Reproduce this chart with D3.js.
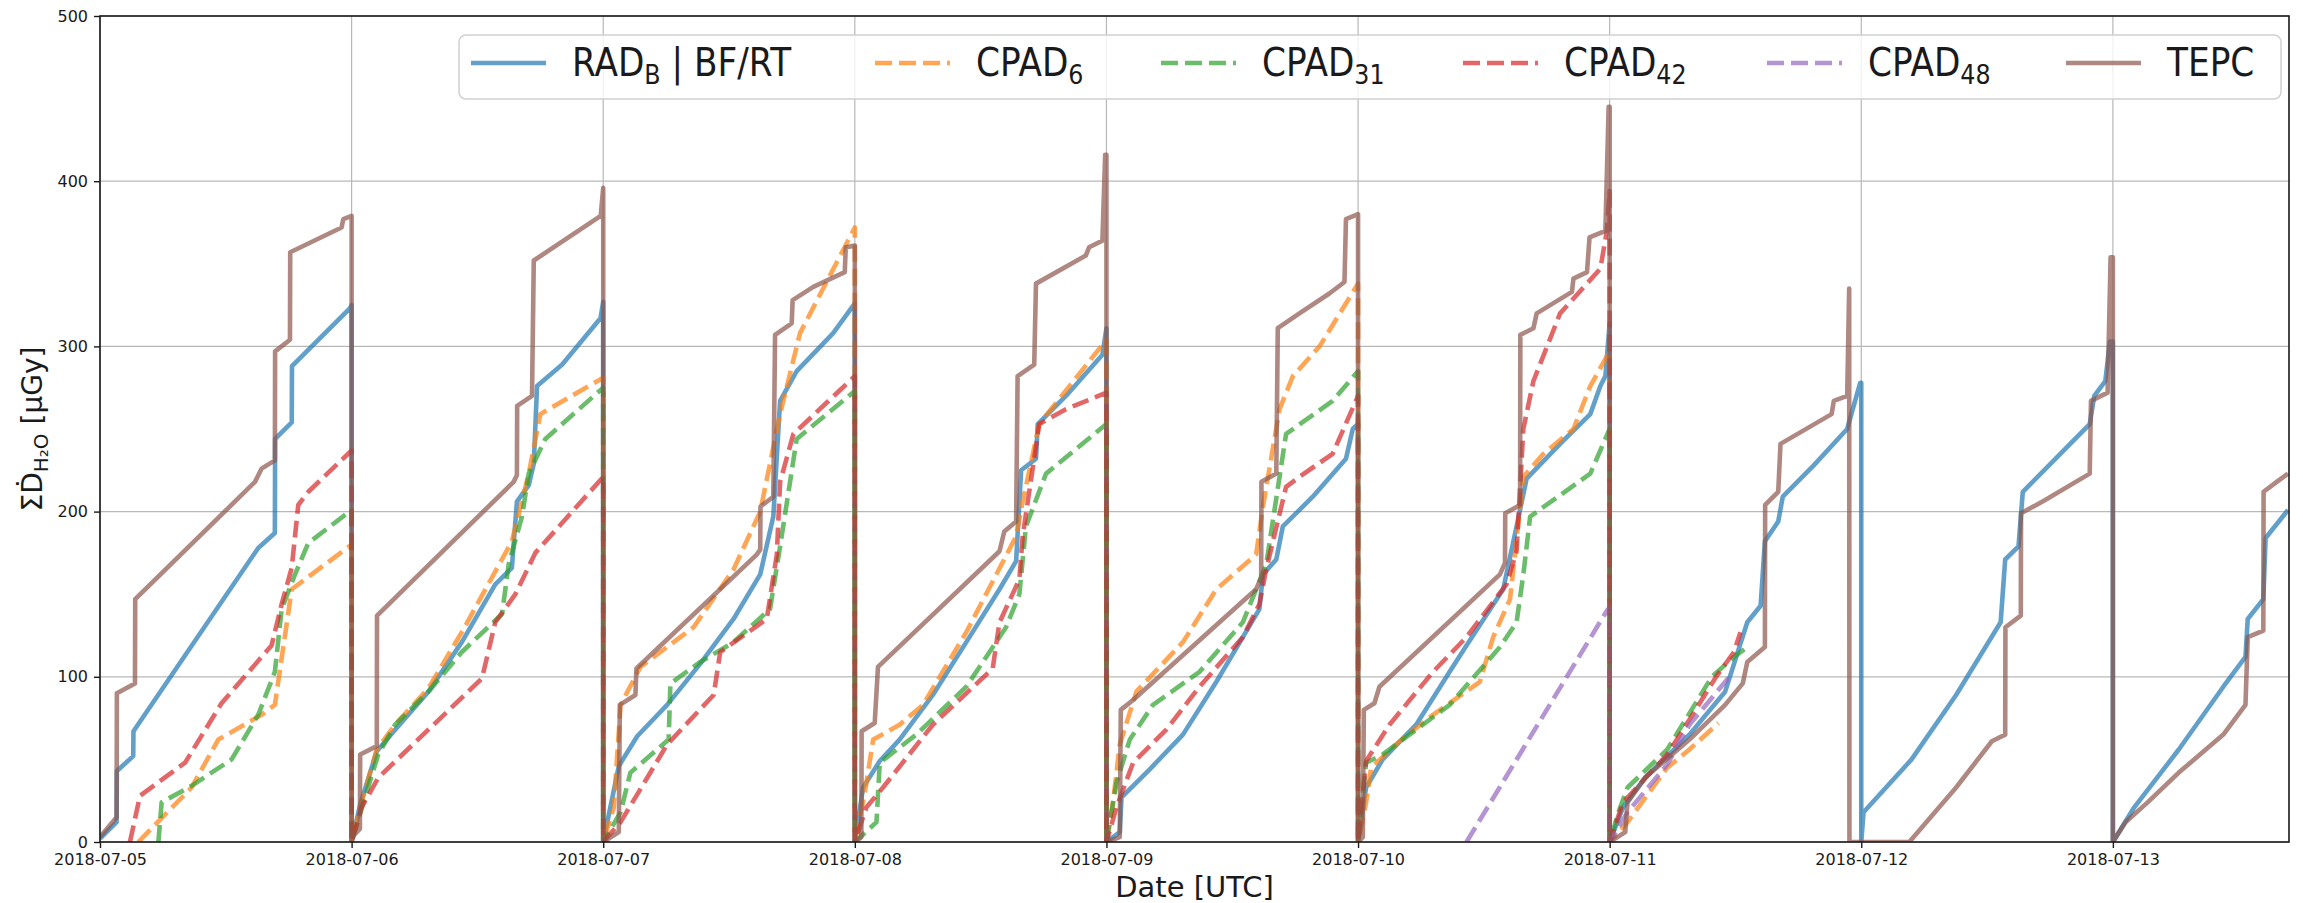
<!DOCTYPE html>
<html>
<head>
<meta charset="utf-8">
<script src="https://cdn.jsdelivr.net/npm/d3@7"></script>
<style>
body { margin: 0; background: #fff; }
text { font-family: "DejaVu Sans", sans-serif; fill: #1a1a1a; white-space: pre; }
</style>
</head>
<body>
<svg id="chart" width="2303" height="903"></svg>
<script>
// time is given in days since 2018-07-05 00:00 UTC, values in uGy
var startDate = Date.UTC(2018, 6, 5);
var endDay = 8.70;
var yTicks = [0, 100, 200, 300, 400, 500];

var radB = [
	[0,2],[0.066,12],[0.067,43],[0.132,52],[0.133,67],[0.629,178],[0.695,187],[0.696,244],[0.762,254],[0.763,288],[0.993,323],[1.0,325],
	[1.0,0],[1.033,22],[1.100,55],[1.173,68],[1.305,91],[1.438,121],[1.571,156],[1.637,166],[1.657,206],[1.704,216],[1.724,229],[1.737,276],[1.837,289],[1.989,317],[2.0,327],
	[2.0,0],[2.062,46],[2.135,64],[2.254,83],[2.386,108],[2.518,135],[2.624,162],[2.676,197],[2.703,267],[2.769,285],[2.914,308],[3.0,326],
	[3.0,0],[3.033,33],[3.099,49],[3.178,62],[3.310,89],[3.443,121],[3.575,153],[3.641,170],[3.661,225],[3.720,232],[3.727,253],[3.839,270],[3.984,295],[4.0,311],
	[4.0,0],[4.053,6],[4.060,27],[4.172,44],[4.304,65],[4.437,97],[4.608,141],[4.622,162],[4.675,171],[4.701,191],[4.820,209],[4.952,232],[4.979,250],[5.0,253],
	[5.0,0],[5.032,33],[5.098,50],[5.231,71],[5.364,103],[5.431,119],[5.577,153],[5.630,191],[5.670,220],[5.803,241],[5.923,259],[5.963,276],[5.983,282],[6.0,314],
	[6.0,0],[6.053,21],[6.141,39],[6.317,65],[6.459,91],[6.547,133],[6.600,143],[6.617,182],[6.670,194],[6.688,209],[6.811,228],[6.944,250],[6.996,278],[7.0,278],
	[7.0,0],[7.009,18],[7.200,50],[7.377,89],[7.554,133],[7.572,171],[7.625,179],[7.642,212],[7.908,253],[7.926,270],[7.970,279],[7.988,303],[8.0,303],
	[8.0,0],[8.085,21],[8.262,56],[8.439,94],[8.527,112],[8.536,135],[8.598,147],[8.607,184],[8.696,201]
];

var cpad6 = [
	[0.152,0],[0.364,33],[0.470,62],[0.642,77],[0.695,83],[0.762,153],[1.0,180],
	[1.0,0],[1.040,24],[1.100,56],[1.173,71],[1.305,93],[1.438,127],[1.637,182],[1.704,223],[1.750,259],[2.0,281],
	[2.0,0],[2.042,21],[2.069,83],[2.148,106],[2.359,130],[2.518,165],[2.624,200],[2.703,259],[2.782,308],[3.0,372],
	[3.0,0],[3.040,30],[3.073,62],[3.178,71],[3.271,83],[3.443,127],[3.641,185],[3.667,206],[3.733,253],[4.0,304],
	[4.0,0],[4.026,24],[4.053,59],[4.119,91],[4.304,121],[4.437,153],[4.595,174],[4.622,203],[4.688,262],[4.741,282],[4.847,300],[5.0,338],
	[5.0,0],[5.032,24],[5.052,45],[5.165,61],[5.298,77],[5.484,97],[5.537,124],[5.604,147],[5.657,221],[5.737,235],[5.856,250],[5.923,276],[6.0,297],
	[6.0,0],[6.071,12],[6.229,45],[6.317,56],[6.432,72]
];

var cpad31 = [
	[0.232,0],[0.245,24],[0.364,34],[0.523,50],[0.629,77],[0.695,103],[0.722,141],[0.775,162],[0.828,181],[1.0,201],
	[1.0,0],[1.053,27],[1.106,53],[1.173,71],[1.305,91],[1.438,115],[1.598,138],[1.624,168],[1.677,197],[1.704,223],[1.770,244],[2.0,275],
	[2.0,0],[2.069,18],[2.108,42],[2.260,62],[2.267,96],[2.386,109],[2.518,121],[2.663,141],[2.703,179],[2.769,244],[3.0,273],
	[3.0,0],[3.086,12],[3.099,48],[3.244,65],[3.443,94],[3.601,130],[3.654,150],[3.680,191],[3.760,223],[4.0,253],
	[4.0,0],[4.040,36],[4.093,62],[4.185,83],[4.370,103],[4.542,133],[4.635,168],[4.714,247],[4.899,267],[5.0,285],
	[5.0,0],[5.032,48],[5.098,53],[5.231,68],[5.364,83],[5.564,118],[5.630,133],[5.657,162],[5.684,197],[5.923,223],[6.0,250],
	[6.0,0],[6.035,18],[6.071,33],[6.229,56],[6.406,100],[6.494,112],[6.556,119]
];

var cpad42 = [
	[0.119,0],[0.159,28],[0.338,48],[0.483,84],[0.682,119],[0.722,144],[0.762,166],[0.788,204],[0.828,212],[1.0,237],
	[1.0,0],[1.040,21],[1.106,39],[1.305,68],[1.518,99],[1.571,133],[1.651,150],[1.730,175],[2.0,221],
	[2.0,0],[2.069,12],[2.254,59],[2.439,89],[2.465,115],[2.650,135],[2.690,174],[2.703,218],[2.756,247],[3.0,282],
	[3.0,0],[3.046,21],[3.112,33],[3.310,71],[3.548,105],[3.575,133],[3.654,159],[3.667,185],[3.733,253],[3.839,262],[4.0,272],
	[4.0,0],[4.040,21],[4.106,48],[4.238,68],[4.370,94],[4.542,124],[4.608,144],[4.635,165],[4.714,215],[4.767,221],[4.899,235],[5.0,270],
	[5.0,0],[5.032,49],[5.125,71],[5.298,103],[5.431,124],[5.590,156],[5.630,176],[5.657,250],[5.697,279],[5.803,320],[5.963,347],[5.989,370],[6.0,394],
	[6.0,0],[6.053,24],[6.229,53],[6.317,74],[6.423,100],[6.494,115],[6.520,127]
];

var cpad48 = [
	[5.431,0],[5.989,140],[6.0,142],
	[6.0,0],[6.071,18],[6.229,47],[6.317,71],[6.476,100]
];

var tepc = [
	[0,3],[0.066,15],[0.067,90],[0.139,96],[0.140,147],[0.616,218],[0.642,226],[0.695,231],[0.696,297],[0.755,304],[0.756,357],[0.960,372],[0.967,377],[1.0,379],
	[1.0,0],[1.001,3],[1.033,8],[1.034,53],[1.100,58],[1.101,137],[1.644,218],[1.657,222],[1.658,264],[1.717,270],[1.724,352],[1.990,379],[2.0,396],
	[2.0,0],[2.062,6],[2.066,83],[2.128,89],[2.132,105],[2.610,174],[2.624,177],[2.625,203],[2.676,209],[2.683,307],[2.749,314],[2.753,328],[2.835,336],[2.960,345],[2.964,360],[3.0,361],
	[3.0,0],[3.026,3],[3.027,67],[3.079,72],[3.092,106],[3.575,176],[3.594,188],[3.641,194],[3.647,282],[3.713,289],[3.720,338],[3.918,355],[3.931,360],[3.984,364],[3.995,416],[4.0,416],
	[4.0,0],[4.053,3],[4.057,80],[4.106,86],[4.595,153],[4.615,160],[4.616,218],[4.675,223],[4.681,311],[4.767,320],[4.886,332],[4.946,339],[4.952,377],[5.0,380],
	[5.0,0],[5.019,3],[5.023,80],[5.065,84],[5.085,94],[5.564,162],[5.584,169],[5.585,199],[5.644,204],[5.645,307],[5.697,311],[5.710,320],[5.850,333],[5.856,341],[5.910,345],[5.920,366],[5.983,370],[5.996,445],[6.0,445],
	[6.0,0],[6.062,6],[6.071,24],[6.141,39],[6.317,62],[6.459,83],[6.529,96],[6.547,109],[6.617,118],[6.618,204],[6.670,212],[6.679,241],[6.882,259],[6.891,267],[6.944,270],[6.952,335],[6.953,0],[7.191,0],
	[7.377,33],[7.519,61],[7.572,65],[7.573,130],[7.634,137],[7.635,199],[7.731,207],[7.908,223],[7.913,267],[7.979,272],[7.991,354],[8.0,354],
	[8.0,0],[8.050,12],[8.138,24],[8.262,42],[8.439,65],[8.527,83],[8.536,124],[8.598,128],[8.599,212],[8.651,218],[8.696,223]
];

// label parts: [text, isSubscript]
var series = [
	{ label: [['RAD',0],['B',1],[' | BF/RT',0]], color: '#1f77b4', dashed: false, values: radB },
	{ label: [['CPAD',0],['6',1]], color: '#ff7f0e', dashed: true, values: cpad6 },
	{ label: [['CPAD',0],['31',1]], color: '#2ca02c', dashed: true, values: cpad31 },
	{ label: [['CPAD',0],['42',1]], color: '#d62728', dashed: true, values: cpad42 },
	{ label: [['CPAD',0],['48',1]], color: '#9467bd', dashed: true, values: cpad48 },
	{ label: [['TEPC',0]], color: '#8c564b', dashed: false, values: tepc }
];

var legendX = [471, 875, 1161, 1463, 1767, 2066];

var margin = { top: 16, right: 14, bottom: 61, left: 100 };
var width = 2303, height = 903;
var innerW = width - margin.left - margin.right;
var innerH = height - margin.top - margin.bottom;

var toDate = function( t ) { return new Date( startDate + t * 864e5 ); };

var x = d3.scaleUtc()
	.domain( [ toDate(0), toDate(endDay) ] )
	.range( [ 0, innerW ] );

var y = d3.scaleLinear()
	.domain( [ 0, 500 ] )
	.range( [ innerH, 0 ] );

var svg = d3.select('#chart');

svg.append('defs').append('clipPath').attr('id', 'plot-clip')
	.append('rect').attr('width', innerW).attr('height', innerH);

var g = svg.append('g').attr('transform', 'translate(' + margin.left + ',' + margin.top + ')');

var dayTicks = x.ticks( d3.utcDay.every(1) );

// grid
var grid = g.append('g').attr('class', 'grid');
grid.selectAll('.vgrid').data( dayTicks ).enter().append('line')
	.attr('x1', function(d) { return x(d); })
	.attr('x2', function(d) { return x(d); })
	.attr('y1', 0).attr('y2', innerH)
	.attr('stroke', '#b8b8b8').attr('stroke-width', 1.2);
grid.selectAll('.hgrid').data( yTicks ).enter().append('line')
	.attr('y1', function(d) { return y(d); })
	.attr('y2', function(d) { return y(d); })
	.attr('x1', 0).attr('x2', innerW)
	.attr('stroke', '#b8b8b8').attr('stroke-width', 1.2);

var line = d3.line()
	.x(function(d) { return x( toDate( d[0] ) ); })
	.y(function(d) { return y( d[1] ); });

g.append('g').attr('clip-path', 'url(#plot-clip)')
	.selectAll('.series').data( series ).enter().append('path')
	.attr('class', 'series')
	.attr('d', function(d) { return line( d.values ); })
	.attr('fill', 'none')
	.attr('stroke', function(d) { return d.color; })
	.attr('stroke-opacity', 0.7)
	.attr('stroke-width', 4.6)
	.attr('stroke-linejoin', 'round')
	.attr('stroke-dasharray', function(d) { return d.dashed ? '17,7' : null; });

// axes
var xAxis = g.append('g')
	.attr('transform', 'translate(0,' + innerH + ')')
	.call( d3.axisBottom(x).tickValues( dayTicks ).tickFormat( d3.utcFormat('%Y-%m-%d') ).tickSize(6).tickPadding(6) );

var yAxis = g.append('g')
	.call( d3.axisLeft(y).tickValues( yTicks ).tickFormat( d3.format('d') ).tickSize(6).tickPadding(6) );

[xAxis, yAxis].forEach( function( a ) {
	a.select('.domain').remove();
	a.selectAll('.tick line').attr('stroke', '#1a1a1a').attr('stroke-width', 1.4);
	a.selectAll('.tick text').style('font-family', '"DejaVu Sans", sans-serif').style('font-size', '16px').attr('fill', '#1a1a1a');
});

g.append('rect')
	.attr('width', innerW).attr('height', innerH)
	.attr('fill', 'none').attr('stroke', '#1a1a1a').attr('stroke-width', 1.6);

// axis titles
svg.append('text')
	.attr('x', margin.left + innerW / 2).attr('y', 897)
	.attr('text-anchor', 'middle')
	.style('font-size', '29px')
	.text('Date [UTC]');

var ylab = svg.append('text')
	.attr('transform', 'translate(42,' + (margin.top + innerH / 2) + ') rotate(-90)')
	.attr('text-anchor', 'middle')
	.style('font-size', '28px');
ylab.append('tspan').text('\u03A3\u1E0A');
ylab.append('tspan').attr('dy', 6).style('font-size', '20px').text('H\u2082O');
ylab.append('tspan').attr('dy', -6).text(' [\u00B5Gy]');

// legend
var legend = svg.append('g');
legend.append('rect')
	.attr('x', 459).attr('y', 35).attr('width', 1822).attr('height', 64)
	.attr('rx', 7)
	.attr('fill', '#fff').attr('fill-opacity', 0.8)
	.attr('stroke', '#d0d0d0').attr('stroke-width', 1.5);

var entries = legend.selectAll('.entry').data( series ).enter().append('g')
	.attr('transform', function(d, i) { return 'translate(' + legendX[i] + ',0)'; });

entries.append('line')
	.attr('x1', 0).attr('x2', 75).attr('y1', 63).attr('y2', 63)
	.attr('stroke', function(d) { return d.color; })
	.attr('stroke-opacity', 0.7)
	.attr('stroke-width', 4.6)
	.attr('stroke-dasharray', function(d) { return d.dashed ? '17,7' : null; });

// legend labels are a bit narrower than plain DejaVu in the source image
entries.append('text')
	.attr('transform', 'translate(101,76) scale(0.88,1)')
	.style('font-size', '39px')
	.each( function( d ) {
		var t = d3.select(this);
		var shifted = false;
		d.label.forEach( function( part ) {
			var ts = t.append('tspan').text( part[0] );
			if ( part[1] ) {
				ts.attr('dy', 8).style('font-size', '27px');
				shifted = true;
			} else if ( shifted ) {
				ts.attr('dy', -8);
				shifted = false;
			}
		});
	});
</script>
</body>
</html>
